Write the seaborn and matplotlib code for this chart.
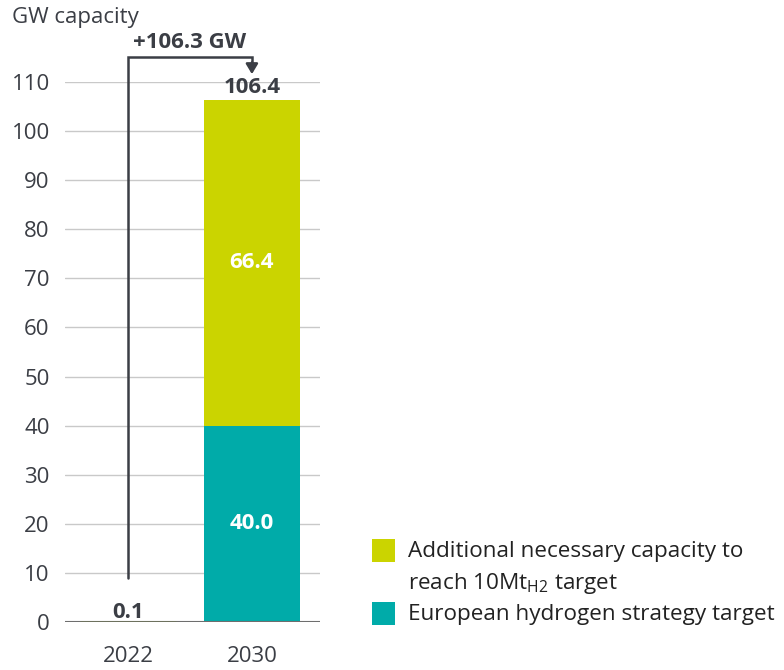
import matplotlib
matplotlib.use("Agg")
import matplotlib.pyplot as plt
from matplotlib.patches import Rectangle
import seaborn as sns
import pandas as pd

years = ["2022", "2030"]
installed = [0.1, 0.0]
strategy_target = [0.0, 40.0]
additional_needed = [0.0, 66.4]
totals = [round(a + b + c, 1) for a, b, c in zip(installed, strategy_target, additional_needed)]
increase = round(totals[1] - totals[0], 1)
y_ticks = [0, 10, 20, 30, 40, 50, 60, 70, 80, 90, 100, 110]

legend_labels = ["Additional necessary capacity to\nreach 10Mt$_{\\mathregular{H2}}$ target",
                 "European hydrogen strategy target"]

c_yellow = "#cbd400"
c_teal = "#00aba9"
c_olive = "#6b7f1f"
c_text = "#3b3e45"

sns.set_theme(style="white")
plt.rcParams["font.family"] = ["Open Sans", "DejaVu Sans"]

df = pd.DataFrame({"year": years, "installed": installed,
                   "strategy": strategy_target, "additional": additional_needed})

fig = plt.figure(figsize=(7.84, 6.70), dpi=100)
ax = fig.add_axes([65 / 784, 1 - 622 / 670, 255 / 784, 540 / 670])

bw = 0.775
sns.barplot(data=df, x="year", y="strategy", color=c_teal, width=bw, ax=ax,
            saturation=1, linewidth=0, order=years)
sns.barplot(data=df, x="year", y="additional", color=c_yellow, width=bw, ax=ax,
            saturation=1, linewidth=0, bottom=df["strategy"] + df["installed"],
            order=years)
sns.barplot(data=df[df["installed"] > 0], x="year", y="installed", color=c_olive,
            width=bw, ax=ax, saturation=1, linewidth=1.0, edgecolor=c_olive,
            order=years, zorder=5)

ax.set_xlim(-0.51, 1.55)
ax.set_ylim(0, 110)
ax.set_yticks(y_ticks)
for t in y_ticks[1:]:
    ax.axhline(t, color="#c9c9c9", lw=1, zorder=0)
ax.axhline(0, color="#6e6e6e", lw=1.5, zorder=3)
for s in ax.spines.values():
    s.set_visible(False)
ax.set_xlabel("")
ax.set_ylabel("")
ax.tick_params(axis="y", length=0, pad=11, labelsize=16, labelcolor=c_text)
ax.tick_params(axis="x", length=0, pad=17, labelsize=16, labelcolor=c_text)

# Segment labels inside the 2030 bar
ax.text(1, strategy_target[1] / 2, f"{strategy_target[1]:.1f}", ha="center", va="center",
        color="white", fontsize=16, fontweight="bold")
ax.text(1, strategy_target[1] + additional_needed[1] / 2, f"{additional_needed[1]:.1f}",
        ha="center", va="center", color="white", fontsize=16, fontweight="bold")

# Totals above the bars
ax.text(0, totals[0] + 0.7, f"{totals[0]:.1f}", ha="center", va="baseline",
        color=c_text, fontsize=16, fontweight="bold")
ax.text(1, totals[1] + 1.4, f"{totals[1]:.1f}", ha="center", va="baseline",
        color=c_text, fontsize=16, fontweight="bold", clip_on=False)

# Change bracket from 2022 to 2030
ax.plot([0, 0, 1, 1], [9.0, 115.1, 115.1, 113.5], color=c_text, lw=1.8,
        clip_on=False, solid_joinstyle="miter")
ax.annotate("", xy=(1, 111.6), xytext=(1, 114.0),
            arrowprops=dict(arrowstyle="-|>,head_length=0.5,head_width=0.3",
                            color=c_text, lw=1.8, shrinkA=0, shrinkB=0),
            annotation_clip=False)
ax.text(0.5, 116.9, f"+{increase:.1f} GW", ha="center", va="baseline",
        color=c_text, fontsize=16, fontweight="bold", clip_on=False)

fig.text(12 / 784, 1 - 18 / 670, "GW capacity", ha="left", va="center",
         color=c_text, fontsize=16)

# Legend: swatch aligned with the first line of each entry
W, H = 784, 670
entries = [(c_yellow, legend_labels[0], 539), (c_teal, legend_labels[1], 602)]
for color, label, top in entries:
    fig.patches.append(Rectangle((372 / W, 1 - (top + 23) / H), 23 / W, 23 / H,
                                 facecolor=color, edgecolor="none",
                                 transform=fig.transFigure, figure=fig))
    fig.text(408 / W, 1 - (top + 2) / H, label, ha="left", va="top",
             color="#222222", fontsize=16.2, linespacing=1.5)

fig.savefig("out.png", dpi=100)
